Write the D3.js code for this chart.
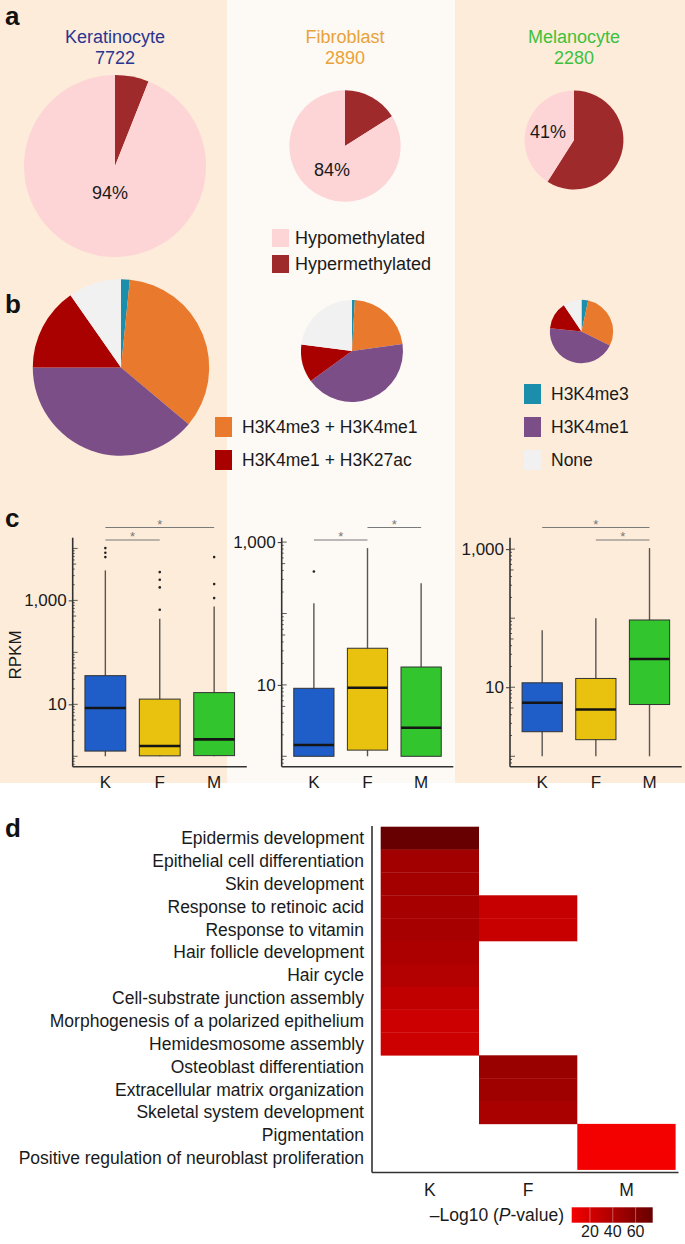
<!DOCTYPE html>
<html>
<head>
<meta charset="utf-8">
<script src="https://cdn.jsdelivr.net/npm/d3@7"></script>
<style>
  body { margin: 0; background: #fff; }
  svg { display: block; font-family: "Liberation Sans", Arial, Helvetica, sans-serif; }
</style>
</head>
<body>
<div id="fig"></div>
<script>
// ---------------- data ----------------
const cellTypes = ["Keratinocyte", "Fibroblast", "Melanocyte"];
const cellCounts = [7722, 2890, 2280];
const hypoPct = [94, 84, 41];
const methylLabels = ["Hypomethylated", "Hypermethylated"];

const markLabels = ["H3K4me3", "H3K4me3 + H3K4me1", "H3K4me1", "H3K4me1 + H3K27ac", "None"];
// percent of hypomethylated regions, clockwise from 12 o'clock
const markPctK = [1.6, 34.5, 38.9, 15.3, 9.7];
const markPctF = [0.9, 21.9, 42.2, 12.0, 23.0];
const markPctM = [3.4, 28.9, 44.3, 14.0, 9.4];

const groups = ["K", "F", "M"];
// RPKM box stats [low whisker, q1, median, q3, high whisker]
const boxK = [[1.0, 1.26, 8.5, 35.6, 3780], [1.0, 1.02, 1.58, 12.6, 444], [1.0, 1.03, 2.12, 16.8, 767]];
const boxF = [[1.0, 1.0, 1.44, 8.96, 139], [1.0, 1.22, 9.14, 32.6, 824], [1.0, 1.0, 2.51, 17.8, 266]];
const boxM = [[1.0, 2.27, 5.95, 11.6, 66.7], [1.0, 1.74, 4.76, 13.4, 100], [1.0, 5.62, 25.7, 94.2, 1035]];
const outK = [[6810, 8260, 10140], [662, 1780, 2500, 3500], [1107, 2060, 6810]];
const outF = [[387], [], []];
const outM = [[], [], []];
// significance brackets [from, to, level]
const sigK = [["K", "F", 0], ["K", "M", 1]];
const sigF = [["K", "F", 0], ["F", "M", 1]];
const sigM = [["F", "M", 0], ["K", "M", 1]];
const yTickLabels = [10, 1000];

const goTerms = [
  "Epidermis development", "Epithelial cell differentiation", "Skin development",
  "Response to retinoic acid", "Response to vitamin", "Hair follicle development",
  "Hair cycle", "Cell-substrate junction assembly", "Morphogenesis of a polarized epithelium",
  "Hemidesmosome assembly", "Osteoblast differentiation", "Extracellular matrix organization",
  "Skeletal system development", "Pigmentation", "Positive regulation of neuroblast proliferation"
];
// -log10(P) per term, null = not enriched
const goK = [75, 45.3, 44.3, 43.3, 42.8, 40.3, 37.2, 30.7, 24.6, 24.6, null, null, null, null, null];
const goF = [null, null, null, 27.7, 26.7, null, null, null, null, null, 49.8, 46.8, 41.8, null, null];
const goM = [null, null, null, null, null, null, null, null, null, null, null, null, null, 5.2, 4.0];
const colorbarTicks = [20, 40, 60];

// ---------------- layout ----------------
const W = 685, H = 1244;
const beige = "#fdecda", pale = "#fdf9f4";
const titleColors = ["#2b3591", "#e9a23a", "#3dc13d"];
const methylColors = ["#fdd5d6", "#9e2a2c"];
const markColors = ["#1a8eab", "#e8792d", "#7c4e88", "#a90000", "#f1f1f1"];
const boxColors = ["#1f5ec8", "#e8c20f", "#33c52e"];

const aCx = [115, 345, 574], aCy = [166, 146, 140];
const bCx = [121, 352, 581.5], bCy = [367.5, 351, 331.5];

const svg = d3.select("#fig").append("svg")
  .attr("width", W).attr("height", H)
  .attr("viewBox", `0 0 ${W} ${H}`);

// column backgrounds
const colEdges = [0, 227, 455, W];
svg.selectAll("rect.bg").data([0, 1, 2]).join("rect")
  .attr("class", "bg")
  .attr("x", i => colEdges[i]).attr("y", 0)
  .attr("width", i => colEdges[i + 1] - colEdges[i]).attr("height", 783)
  .attr("fill", i => i === 1 ? pale : beige);

// panel letters
const letters = [["a", 25], ["b", 313], ["c", 527], ["d", 837]];
svg.selectAll("text.panel").data(letters).join("text")
  .attr("class", "panel")
  .attr("x", 5).attr("y", d => d[1])
  .attr("font-size", 26).attr("font-weight", "bold").attr("fill", "#111")
  .text(d => d[0]);

// ---------------- panel a ----------------
const rScale = d3.scaleSqrt().domain([0, 7722]).range([0, 91]);
const pie = d3.pie().sort(null).value(d => d);

cellTypes.forEach((name, i) => {
  const g = svg.append("g");
  g.append("text").attr("x", aCx[i]).attr("y", 43)
    .attr("text-anchor", "middle").attr("font-size", 18)
    .attr("fill", titleColors[i]).text(name);
  g.append("text").attr("x", aCx[i]).attr("y", 64)
    .attr("text-anchor", "middle").attr("font-size", 18)
    .attr("fill", titleColors[i]).text(cellCounts[i]);

  const r = rScale(cellCounts[i]);
  const arc = d3.arc().innerRadius(0).outerRadius(r);
  const slices = pie([100 - hypoPct[i], hypoPct[i]]);
  const pg = g.append("g").attr("transform", `translate(${aCx[i]},${aCy[i]})`);
  pg.selectAll("path").data(slices).join("path")
    .attr("d", arc)
    .attr("fill", (d, j) => j === 0 ? methylColors[1] : methylColors[0]);
  const labelArc = d3.arc().innerRadius(27).outerRadius(27);
  const c = labelArc.centroid(slices[1]);
  pg.append("text").attr("x", c[0]).attr("y", c[1])
    .attr("text-anchor", "middle").attr("dominant-baseline", "central")
    .attr("font-size", 18).attr("fill", "#1a1a1a")
    .text(hypoPct[i] + "%");
});

// legend a
const legA = svg.append("g");
methylLabels.forEach((lab, j) => {
  legA.append("rect").attr("x", 272).attr("y", 229 + j * 26)
    .attr("width", 17).attr("height", 18).attr("fill", methylColors[j]);
  legA.append("text").attr("x", 295).attr("y", 238 + j * 26)
    .attr("dominant-baseline", "central").attr("font-size", 18).attr("fill", "#1a1a1a")
    .text(lab);
});

// ---------------- panel b ----------------
const hypoCounts = cellCounts.map((n, i) => Math.round(n * hypoPct[i] / 100));
[markPctK, markPctF, markPctM].forEach((pcts, i) => {
  const r = rScale(hypoCounts[i]);
  const arc = d3.arc().innerRadius(0).outerRadius(r);
  svg.append("g").attr("transform", `translate(${bCx[i]},${bCy[i]})`)
    .selectAll("path").data(pie(pcts)).join("path")
    .attr("d", arc)
    .attr("fill", (d, j) => markColors[j]);
});

// legend b (two groups)
const legRows = [394, 427, 460];
const legB = [
  { idx: 1, x: 215, row: 1 }, { idx: 3, x: 215, row: 2 },
  { idx: 0, x: 524, row: 0 }, { idx: 2, x: 524, row: 1 }, { idx: 4, x: 524, row: 2 }
];
legB.forEach(d => {
  svg.append("rect").attr("x", d.x).attr("y", legRows[d.row] - 10)
    .attr("width", 17).attr("height", 20).attr("fill", markColors[d.idx]);
  svg.append("text").attr("x", d.x + 27).attr("y", legRows[d.row])
    .attr("dominant-baseline", "central").attr("font-size", 17.5).attr("fill", "#1a1a1a")
    .text(markLabels[d.idx]);
});

// ---------------- panel c ----------------
const cPanels = [
  { stats: boxK, out: outK, sig: sigK, x0: 72.7, x1: 246.8 },
  { stats: boxF, out: outF, sig: sigF, x0: 281.7, x1: 453.3 },
  { stats: boxM, out: outM, sig: sigM, x0: 510, x1: 681.7 }
];
const cTop = 537.7, cBot = 766.7;

cPanels.forEach(p => {
  const g = svg.append("g");
  const all = p.stats.flat().concat(p.out.flat());
  const lo = Math.log10(d3.min(all)), hi = Math.log10(d3.max(all));
  const pad = 0.05 * (hi - lo);
  const y = d3.scaleLog().domain([10 ** (lo - pad), 10 ** (hi + pad)]).range([cBot, cTop]);
  const x = d3.scalePoint().domain(groups).range([p.x0, p.x1]).padding(0.6);
  const bw = x.step() * 0.75;

  // log ticks inside the axis
  const dom = y.domain();
  const ticks = [];
  for (let k = Math.floor(Math.log10(dom[0])); k <= Math.ceil(Math.log10(dom[1])); k++) {
    for (let m = 1; m <= 9; m++) {
      const v = m * 10 ** k;
      if (v >= dom[0] && v <= dom[1]) ticks.push({ v, m });
    }
  }
  g.selectAll("line.lt").data(ticks).join("line")
    .attr("x1", p.x0).attr("x2", d => p.x0 + (d.m === 1 ? 5 : d.m === 5 ? 3.5 : 2))
    .attr("y1", d => y(d.v)).attr("y2", d => y(d.v))
    .attr("stroke", "#333").attr("stroke-width", 0.8);

  // labelled y axis
  const yAxis = g.append("g").attr("transform", `translate(${p.x0},0)`)
    .call(d3.axisLeft(y).tickValues(yTickLabels).tickFormat(d3.format(",")).tickSize(4).tickPadding(2));
  yAxis.select(".domain").remove();
  yAxis.selectAll("line").attr("stroke", "#333").attr("stroke-width", 1);
  yAxis.selectAll("text").attr("font-size", 17).attr("fill", "#1a1a1a")
    .attr("font-family", "Liberation Sans, Arial, sans-serif");

  // whiskers
  p.stats.forEach((s, j) => {
    const cx = x(groups[j]);
    g.append("line").attr("x1", cx).attr("x2", cx).attr("y1", y(s[0])).attr("y2", y(s[4]))
      .attr("stroke", "#5b5550").attr("stroke-width", 1.4);
    g.append("rect").attr("x", cx - bw / 2).attr("width", bw)
      .attr("y", y(s[3])).attr("height", y(s[1]) - y(s[3]))
      .attr("fill", boxColors[j]).attr("stroke", "#333").attr("stroke-width", 1);
    g.append("line").attr("x1", cx - bw / 2).attr("x2", cx + bw / 2)
      .attr("y1", y(s[2])).attr("y2", y(s[2]))
      .attr("stroke", "#151515").attr("stroke-width", 2.6);
    g.selectAll(null).data(p.out[j]).join("circle")
      .attr("cx", cx).attr("cy", d => y(d)).attr("r", 1.3).attr("fill", "#222");
  });

  // axes lines
  g.append("line").attr("x1", p.x0).attr("x2", p.x0).attr("y1", cTop).attr("y2", cBot)
    .attr("stroke", "#333").attr("stroke-width", 1.6);
  g.append("line").attr("x1", p.x0).attr("x2", p.x1).attr("y1", cBot).attr("y2", cBot)
    .attr("stroke", "#333").attr("stroke-width", 1.6);
  g.selectAll("text.xl").data(groups).join("text")
    .attr("class", "xl")
    .attr("x", d => x(d)).attr("y", 782)
    .attr("text-anchor", "middle").attr("dominant-baseline", "central")
    .attr("font-size", 17).attr("fill", "#1a1a1a").text(d => d);

  // significance brackets
  p.sig.forEach(s => {
    const by = s[2] === 1 ? 527.5 : 540;
    g.append("line").attr("x1", x(s[0])).attr("x2", x(s[1])).attr("y1", by).attr("y2", by)
      .attr("stroke", "#7a7a7a").attr("stroke-width", 1.2);
    g.append("text").attr("x", (x(s[0]) + x(s[1])) / 2).attr("y", by + 1)
      .attr("text-anchor", "middle").attr("font-size", 13).attr("fill", "#777").text("*");
  });
});

svg.append("text")
  .attr("transform", "translate(15,655) rotate(-90)")
  .attr("text-anchor", "middle").attr("dominant-baseline", "central")
  .attr("font-size", 17).attr("fill", "#1a1a1a").text("RPKM");

// ---------------- panel d ----------------
const hx = d3.scaleBand().domain(groups).range([380.7, 675.6]);
const hy = d3.scaleBand().domain(goTerms).range([826.7, 1169.6]);
const cells = [];
[goK, goF, goM].forEach((vals, j) => {
  vals.forEach((v, i) => { if (v !== null) cells.push({ g: groups[j], t: goTerms[i], v }); });
});
const vExt = d3.extent(cells, d => d.v);
const heat = d3.scaleLinear().domain(vExt).range(["#f50000", "#670000"]);

svg.append("g").selectAll("rect").data(cells).join("rect")
  .attr("x", d => hx(d.g)).attr("y", d => hy(d.t))
  .attr("width", hx.bandwidth()).attr("height", hy.bandwidth() + 0.3)
  .attr("fill", d => heat(d.v));

svg.append("g").selectAll("text").data(goTerms).join("text")
  .attr("x", 364).attr("y", d => hy(d) + hy.bandwidth() / 2)
  .attr("text-anchor", "end").attr("dominant-baseline", "central")
  .attr("font-size", 17.5).attr("fill", "#1a1a1a").text(d => d);

svg.append("line").attr("x1", 372).attr("x2", 372).attr("y1", 826).attr("y2", 1172.5)
  .attr("stroke", "#333").attr("stroke-width", 1.6);
svg.append("line").attr("x1", 372).attr("x2", 678.5).attr("y1", 1172.5).attr("y2", 1172.5)
  .attr("stroke", "#333").attr("stroke-width", 1.6);
svg.append("g").selectAll("text").data(groups).join("text")
  .attr("x", d => hx(d) + hx.bandwidth() / 2).attr("y", 1190)
  .attr("text-anchor", "middle").attr("dominant-baseline", "central")
  .attr("font-size", 17.5).attr("fill", "#1a1a1a").text(d => d);

// colour bar legend
const cbX = d3.scaleLinear().domain(vExt).range([571.7, 652.7]);
const grad = svg.append("defs").append("linearGradient").attr("id", "cb");
d3.range(0, 1.001, 0.1).forEach(t => {
  grad.append("stop").attr("offset", t)
    .attr("stop-color", heat(vExt[0] + t * (vExt[1] - vExt[0])));
});
svg.append("rect").attr("x", 571.7).attr("y", 1207.3).attr("width", 81).attr("height", 15.4)
  .attr("fill", "url(#cb)");
svg.append("g").selectAll("line").data(colorbarTicks).join("line")
  .attr("x1", d => cbX(d)).attr("x2", d => cbX(d))
  .attr("y1", 1207.3).attr("y2", 1222.7)
  .attr("stroke", "#fff").attr("stroke-opacity", 0.35).attr("stroke-width", 1);
svg.append("g").selectAll("text").data(colorbarTicks).join("text")
  .attr("x", d => cbX(d)).attr("y", 1231)
  .attr("text-anchor", "middle").attr("dominant-baseline", "central")
  .attr("font-size", 16).attr("fill", "#1a1a1a").text(d => d);
const lt = svg.append("text").attr("x", 564).attr("y", 1215)
  .attr("text-anchor", "end").attr("dominant-baseline", "central")
  .attr("font-size", 17.5).attr("fill", "#1a1a1a");
lt.append("tspan").text("\u2013Log10 (");
lt.append("tspan").attr("font-style", "italic").text("P");
lt.append("tspan").text("-value)");
</script>
</body>
</html>
